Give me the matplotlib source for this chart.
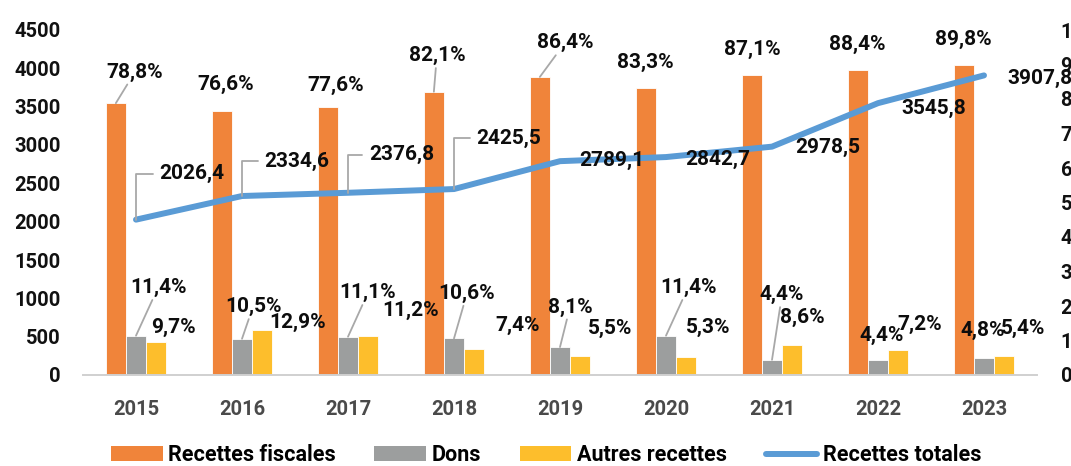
import matplotlib
matplotlib.use('Agg')
import matplotlib.pyplot as plt
from matplotlib.patches import Patch
from matplotlib.lines import Line2D
import numpy as np

# ---------------- data ----------------
years = ['2015', '2016', '2017', '2018', '2019', '2020', '2021', '2022', '2023']
recettes_fiscales_pct = [78.8, 76.6, 77.6, 82.1, 86.4, 83.3, 87.1, 88.4, 89.8]
dons_pct = [11.4, 10.5, 11.1, 10.6, 8.1, 11.4, 4.4, 4.4, 4.8]
autres_pct = [9.7, 12.9, 11.2, 7.4, 5.5, 5.3, 8.6, 7.2, 5.4]
recettes_totales = [2026.4, 2334.6, 2376.8, 2425.5, 2789.1, 2842.7, 2978.5, 3545.8, 3907.8]
left_ticks = [0, 500, 1000, 1500, 2000, 2500, 3000, 3500, 4000, 4500]
right_ticks = [0, 10, 20, 30, 40, 50, 60, 70, 80, 90, 100]
series_names = ['Recettes fiscales', 'Dons', 'Autres recettes', 'Recettes totales']

# ---------------- styles ----------------
C_ORANGE = '#F0843A'
C_GREY = '#9C9E9E'
C_YELLOW = '#FDBE2C'
C_BLUE = '#5A9BD5'
C_LEADER = '#A8A8A8'
FONT = 'Roboto'
LABEL_SIZE = 15
TICK_SIZE = 14.5

# label offsets in pixels (dx, dy) from anchor; flag = draw leader line
off_fisc = [(19, 31, True), (4, 26, False), (8, 22, False), (3, 36, True), (25, 34, True),
            (-1, 25, False), (0, 25, False), (-1, 26, False), (-1, 26, False)]
off_tot = [(56, 46, True), (55, 35, True), (54, 38, True), (55, 51, True), (52, 1, False),
           (52, -2, False), (56, -1, False), (56, -5, False), (56, -3, False)]
off_dons = [(22, 48, True), (11, 32, True), (20, 44, True), (13, 45, True), (10, 40, True),
            (22, 48, True), (10, 65, True), (4, 24, False), (-1, 28, False)]
off_autres = [(17, 14, False), (35, 8, False), (42, 26, False), (43, 24, False), (30, 28, False),
              (22, 29, False), (10, 28, False), (22, 26, False), (19, 28, False)]


def fmt(v, pct=False):
    s = f"{v:.1f}".replace('.', ',')
    return s + '%' if pct else s


W, H = 1071, 466
fig = plt.figure(figsize=(W / 100, H / 100), dpi=100)
ax = fig.add_axes([83 / W, 91 / H, 954 / W, 345 / H])
ax2 = ax.twinx()
ax.set_zorder(ax2.get_zorder() + 1)
ax.patch.set_visible(False)

x = np.arange(len(years))
bw = 0.19

ax2.bar(x - bw, recettes_fiscales_pct, bw, color=C_ORANGE, edgecolor='white', linewidth=0.6)
ax2.bar(x, dons_pct, bw, color=C_GREY, edgecolor='white', linewidth=0.6)
ax2.bar(x + bw, autres_pct, bw, color=C_YELLOW, edgecolor='white', linewidth=0.6)
ax.plot(x, recettes_totales, color=C_BLUE, lw=4.3, solid_capstyle='round', solid_joinstyle='round')

ax.set_xlim(-0.5, len(years) - 0.5)
ax.set_ylim(0, 4500)
ax2.set_ylim(0, 100)
ax.set_yticks(left_ticks)
ax.set_yticklabels([str(t) for t in left_ticks])
ax2.set_yticks(right_ticks)
ax2.set_yticklabels([str(t) for t in right_ticks])
ax.set_xticks(x)
ax.set_xticklabels(years)

for a in (ax, ax2):
    for s in ('top', 'left', 'right', 'bottom'):
        a.spines[s].set_visible(False)
    a.tick_params(length=0)
ax.spines['bottom'].set_visible(True)
ax.spines['bottom'].set_color('#D0D0D0')
ax.spines['bottom'].set_linewidth(1.4)

ax.tick_params(axis='y', pad=16)
ax2.tick_params(axis='y', pad=17)
ax.tick_params(axis='x', pad=18)
for lab in ax.get_yticklabels() + ax.get_xticklabels() + ax2.get_yticklabels():
    lab.set_fontfamily(FONT)
    lab.set_fontweight('bold')
    lab.set_fontsize(TICK_SIZE)
    lab.set_color('#111111')
for lab in ax.get_xticklabels():
    lab.set_color('#4a4a4a')


def label(axis, xs, ys, vals, offs, pct, elbow=False):
    for xi, yi, v, (dx, dy, lead) in zip(xs, ys, vals, offs):
        kw = dict(textcoords='offset pixels', ha='center', va='center',
                  fontfamily=FONT, fontweight='bold', fontsize=LABEL_SIZE, color='#0d0d0d',
                  annotation_clip=False)
        if lead:
            if elbow:
                kw['arrowprops'] = dict(arrowstyle='-', color=C_LEADER, lw=1.3, shrinkA=3, shrinkB=0,
                                        relpos=(0, 0.5),
                                        connectionstyle='angle,angleA=0,angleB=90,rad=0')
            else:
                kw['arrowprops'] = dict(arrowstyle='-', color=C_LEADER, lw=1.3, shrinkA=0, shrinkB=0)
        axis.annotate(fmt(v, pct), xy=(xi, yi), xytext=(dx, dy), **kw)


label(ax2, x - bw, recettes_fiscales_pct, recettes_fiscales_pct, off_fisc, True)
label(ax2, x, dons_pct, dons_pct, off_dons, True)
label(ax2, x + bw, autres_pct, autres_pct, off_autres, True)
label(ax, x, recettes_totales, recettes_totales, off_tot, False, elbow=True)

handles = [Patch(facecolor=C_ORANGE), Patch(facecolor=C_GREY), Patch(facecolor=C_YELLOW),
           Line2D([0], [0], color=C_BLUE, lw=4.3, solid_capstyle='round')]
fig.legend(handles, series_names, loc='center', bbox_to_anchor=(546 / W, 11 / H), ncol=4,
           frameon=False, prop=dict(family=FONT, weight='bold', size=15.5),
           handlelength=2.4, handleheight=0.65, handletextpad=0.25, columnspacing=1.8,
           borderpad=0.0)

fig.savefig('out.png', dpi=100)
